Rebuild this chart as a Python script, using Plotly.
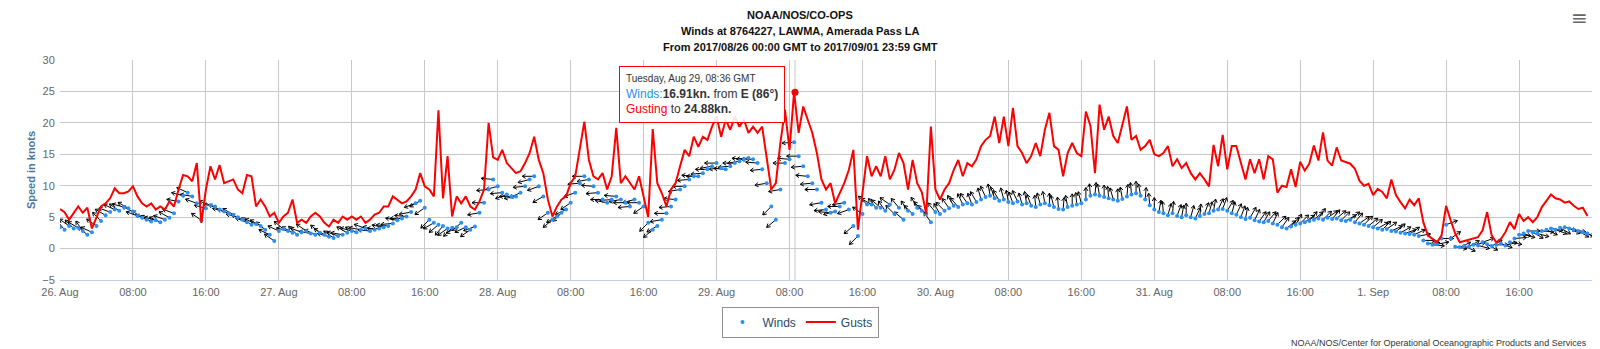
import pandas as pd
import numpy as np
import plotly.graph_objects as go

# ---------------- data (30-minute samples) ----------------
start_time = "2017-08-26 00:00"
step = "30min"

gust_aug26 = [6.3, 5.8, 4.6, 5.7, 6.7, 5.7, 6.5, 3.2, 5.1, 6.7, 7.2, 8.0, 9.6, 8.8, 8.8, 9.1,
              9.9, 8.3, 7.2, 6.7, 7.2, 6.2, 6.7, 6.2, 7.5, 6.7, 9.4, 11.7, 11.5, 10.7, 13.6, 4.1,
              9.4, 13.1, 11.0, 13.3, 10.4, 10.7, 11.0, 9.4, 8.8, 11.7, 11.5, 6.7, 7.8, 6.7, 5.1, 5.7]
gust_aug27 = [4.1, 5.1, 5.7, 7.8, 4.1, 4.6, 4.1, 5.1, 5.7, 5.1, 4.1, 3.5, 4.6, 4.1, 5.1, 4.6,
              5.1, 4.6, 5.1, 4.1, 4.6, 5.4, 5.7, 6.7, 6.7, 8.3, 7.8, 7.2, 7.5, 8.3, 9.4, 12.0,
              9.9, 9.4, 8.3, 22.0, 8.0, 14.7, 5.1, 8.3, 7.2, 8.3, 6.7, 6.2, 7.5, 9.4, 20.0, 14.5]
gust_aug28 = [14.1, 15.7, 13.6, 12.8, 12.0, 12.3, 13.6, 15.2, 17.8, 14.1, 12.0, 7.8, 5.1, 6.7, 7.8, 8.3,
              10.4, 11.5, 15.7, 20.2, 14.1, 11.5, 11.0, 12.0, 9.4, 11.5, 19.2, 10.4, 11.5, 10.4, 9.4, 11.5,
              8.3, 5.0, 19.0, 10.4, 8.8, 6.7, 9.4, 10.4, 13.1, 15.7, 14.7, 17.8, 16.2, 17.8, 17.3, 19.4]
gust_aug29 = [21.0, 17.8, 20.5, 18.9, 21.0, 19.4, 20.5, 18.4, 19.4, 18.4, 19.4, 14.7, 9.4, 10.4, 16.8, 22.1,
              15.7, 24.88, 18.4, 22.6, 20.5, 18.4, 15.2, 11.0, 9.4, 10.4, 7.2, 8.8, 10.4, 12.5, 15.7, 3.0,
              8.8, 14.7, 11.5, 13.1, 11.5, 14.7, 11.0, 12.5, 15.2, 13.6, 9.4, 14.1, 10.4, 9.0, 5.5, 19.4]
gust_aug30 = [9.4, 7.8, 9.4, 10.4, 12.5, 14.1, 11.5, 13.6, 13.1, 14.2, 16.3, 17.3, 17.9, 21.0, 16.8, 21.0,
              16.3, 22.4, 16.3, 15.2, 13.6, 14.7, 16.8, 14.7, 18.9, 21.6, 16.3, 15.7, 11.5, 15.2, 16.8, 15.2,
              14.7, 21.8, 19.5, 12.0, 22.9, 18.9, 21.0, 17.9, 16.8, 19.5, 22.6, 17.3, 17.9, 15.7, 16.3, 17.3]
gust_aug31 = [15.0, 14.7, 15.2, 16.3, 13.1, 14.2, 12.8, 13.6, 12.0, 11.0, 12.0, 11.0, 9.9, 16.5, 13.1, 18.1,
              12.6, 16.3, 16.3, 13.6, 11.0, 14.2, 12.0, 14.2, 11.0, 14.7, 14.2, 8.9, 10.0, 9.8, 12.6, 9.8,
              13.8, 12.4, 13.5, 16.4, 14.0, 18.5, 14.0, 13.2, 16.1, 14.0, 13.8, 13.5, 12.7, 10.8, 10.0, 10.3]
gust_sep01 = [8.5, 9.5, 9.0, 8.0, 11.0, 8.5, 7.4, 6.4, 7.8, 6.9, 8.0, 4.2, 2.1, 1.5, 1.0, 2.1,
              6.8, 4.5, 2.4, 1.0, 1.2, 1.3, 1.6, 1.8, 2.9, 5.8, 2.1, 1.0, 1.5, 2.6, 4.2, 3.1,
              5.5, 4.4, 5.0, 4.2, 5.0, 6.6, 7.6, 8.6, 8.0, 7.8, 7.3, 7.5, 6.8, 6.3, 6.5, 5.2]

wind_aug26 = [3.4, 3.0, 3.6, 3.2, 3.3, 2.8, 2.2, 2.6, 3.6, 4.4, 5.3, 5.8, 6.2, 6.0, 6.6, 6.4,
              5.9, 5.2, 4.9, 4.6, 4.3, 4.5, 4.2, 4.6, 4.9, 5.6, 7.5, 8.4, 8.9, 8.3, 7.2, 4.5,
              6.4, 6.9, 6.7, 6.2, 5.9, 5.6, 5.4, 5.0, 4.6, 4.2, 3.8, 3.9, 3.6, 3.0, 2.2, 1.2]
wind_aug27 = [2.8, 3.1, 2.8, 2.5, 2.2, 2.6, 2.8, 2.4, 2.2, 2.5, 2.2, 1.9, 1.7, 2.0, 2.2, 2.5,
              2.8, 2.6, 3.0, 3.2, 2.8, 3.0, 3.2, 3.4, 3.6, 4.0, 4.5, 4.8, 5.1, 5.8, 7.2, 7.6,
              6.5, 4.6, 4.1, 3.8, 3.6, 3.2, 3.3, 3.4, 4.1, 3.4, 3.0, 3.5, 5.7, 7.3, 9.4, 11.0]
wind_aug28 = [9.9, 8.9, 8.6, 8.3, 8.3, 8.9, 9.9, 11.0, 11.5, 9.9, 8.3, 5.7, 4.6, 5.1, 5.7, 6.2,
              7.3, 8.9, 10.4, 11.5, 11.0, 9.9, 8.9, 7.8, 7.3, 7.8, 8.3, 7.8, 7.3, 6.7, 7.8, 7.3,
              6.7, 4.1, 3.0, 3.6, 4.6, 5.6, 6.7, 7.8, 9.4, 9.9, 11.0, 11.5, 11.5, 12.0, 12.6, 13.1]
wind_aug29 = [13.6, 12.8, 12.6, 13.1, 13.6, 13.9, 14.2, 14.4, 14.2, 13.6, 12.6, 10.4, 6.7, 4.6, 9.4, 13.6,
              14.2, 16.91, 14.7, 13.1, 11.5, 10.4, 9.4, 7.3, 6.2, 5.7, 5.9, 6.7, 7.3, 6.2, 3.6, 2.0,
              5.5, 7.0, 7.0, 6.5, 6.5, 6.0, 7.0, 5.5, 6.5, 4.6, 6.0, 5.5, 6.5, 6.0, 5.5, 4.2]
wind_aug30 = [5.8, 5.5, 6.0, 6.4, 6.8, 6.6, 7.0, 7.2, 7.0, 7.4, 7.8, 8.2, 8.4, 8.0, 7.6, 7.8,
              7.4, 7.2, 7.5, 7.0, 7.2, 6.8, 6.6, 7.0, 7.2, 6.9, 6.6, 6.3, 6.2, 6.6, 6.8, 7.0,
              7.2, 7.8, 8.4, 8.6, 8.4, 8.2, 8.0, 7.8, 7.6, 7.9, 8.3, 8.6, 8.8, 8.4, 7.8, 6.9]
wind_aug31 = [6.2, 5.8, 5.6, 5.3, 5.6, 5.2, 5.0, 5.3, 5.0, 4.8, 5.2, 5.5, 5.6, 6.0, 6.2, 6.3,
              6.0, 5.6, 5.4, 5.0, 4.7, 4.9, 4.5, 4.3, 4.2, 4.4, 4.0, 3.8, 3.4, 3.2, 3.5, 3.8,
              4.0, 4.2, 4.4, 4.6, 4.8, 4.6, 4.9, 4.7, 4.8, 4.5, 4.4, 4.6, 4.2, 4.0, 3.8, 3.6]
wind_sep01 = [3.4, 3.2, 3.0, 3.1, 2.8, 2.7, 2.5, 2.4, 2.3, 2.2, 2.0, 1.3, 0.8, 0.6, 0.7, 1.6,
              3.8, 1.6, 0.3, 0.2, 0.4, 0.3, 0.6, 0.5, 1.0, 0.7, 0.4, 0.6, 0.8, 0.5, 1.0, 1.6,
              2.2, 2.4, 2.8, 2.6, 2.4, 2.8, 3.0, 3.2, 3.0, 3.3, 3.4, 3.2, 3.0, 2.8, 2.6, 2.4]

# wind direction (degrees, direction the wind comes FROM)
dir_aug26 = [130, 140, 125, 135, 120, 145, 130, 115, 125, 135, 120, 110, 115, 125, 105, 120,
             115, 110, 125, 115, 120, 105, 115, 110, 120, 110, 100, 105, 115, 100, 110, 125,
             105, 110, 100, 115, 105, 110, 120, 105, 115, 110, 125, 115, 120, 130, 115, 125]
dir_aug27 = [115, 130, 105, 120, 135, 110, 125, 100, 115, 130, 120, 105, 125, 110, 100, 120,
             105, 115, 100, 110, 95, 105, 90, 100, 95, 85, 100, 90, 95, 80, 70, 60,
             55, 45, 60, 50, 40, 55, 45, 60, 50, 65, 55, 70, 80, 90, 85, 95]
dir_aug28 = [75, 85, 70, 90, 80, 65, 85, 75, 90, 70, 60, 55, 50, 60, 45, 65,
             55, 70, 85, 90, 80, 95, 85, 90, 100, 85, 95, 80, 90, 85, 75, 90,
             55, 45, 50, 60, 80, 90, 85, 95, 80, 90, 85, 95, 90, 85, 90, 80]
dir_aug29 = [90, 85, 95, 85, 90, 80, 95, 85, 90, 95, 85, 80, 45, 50, 80, 90,
             95, 86, 90, 85, 95, 85, 90, 80, 85, 95, 75, 90, 80, 70, 50, 45,
             125, 135, 120, 140, 130, 145, 125, 135, 140, 130, 145, 135, 150, 140, 135, 145]
dir_aug30 = [140, 150, 135, 145, 150, 140, 155, 145, 160, 150, 165, 155, 170, 160, 150, 165,
             170, 160, 155, 165, 170, 160, 175, 165, 170, 180, 165, 175, 185, 170, 180, 175,
             165, 180, 175, 185, 170, 180, 175, 165, 180, 170, 185, 175, 180, 170, 185, 175]
dir_aug31 = [180, 190, 175, 195, 185, 200, 190, 180, 195, 205, 185, 200, 195, 190, 205, 200,
             210, 195, 205, 200, 190, 210, 205, 215, 210, 220, 205, 225, 215, 230, 220, 210,
             225, 235, 220, 230, 215, 225, 235, 220, 230, 225, 240, 230, 220, 235, 225, 230]
dir_sep01 = [230, 240, 225, 235, 245, 230, 240, 250, 235, 245, 260, 270, 265, 275, 260, 270,
             250, 235, 280, 245, 295, 240, 260, 285, 250, 300, 240, 270, 290, 255, 280, 265,
             275, 290, 270, 300, 285, 275, 295, 280, 290, 300, 285, 295, 280, 300, 290, 295]

# hovered point shown in the tooltip
hover_time = "2017-08-29 08:36"
hover_label = "Tuesday, Aug 29, 08:36 GMT"
hover_wind = 16.91
hover_dir_name = "E"
hover_dir = 86
hover_gust = 24.88

tick_times = ["2017-08-26 00:00", "2017-08-26 08:00", "2017-08-26 16:00",
              "2017-08-27 00:00", "2017-08-27 08:00", "2017-08-27 16:00",
              "2017-08-28 00:00", "2017-08-28 08:00", "2017-08-28 16:00",
              "2017-08-29 00:00", "2017-08-29 08:00", "2017-08-29 16:00",
              "2017-08-30 00:00", "2017-08-30 08:00", "2017-08-30 16:00",
              "2017-08-31 00:00", "2017-08-31 08:00", "2017-08-31 16:00",
              "2017-09-01 00:00", "2017-09-01 08:00", "2017-09-01 16:00",
              "2017-09-02 00:00"]
tick_labels = ["26. Aug", "08:00", "16:00", "27. Aug", "08:00", "16:00",
               "28. Aug", "08:00", "16:00", "29. Aug", "08:00", "16:00",
               "30. Aug", "08:00", "16:00", "31. Aug", "08:00", "16:00",
               "1. Sep", "08:00", "16:00", ""]
y_ticks = [-5, 0, 5, 10, 15, 20, 25, 30]

title_lines = ["NOAA/NOS/CO-OPS",
               "Winds at 8764227, LAWMA, Amerada Pass LA",
               "From 2017/08/26 00:00 GMT to 2017/09/01 23:59 GMT"]
credit_text = "NOAA/NOS/Center for Operational Oceanographic Products and Services"

# ---------------- assemble ----------------
gusts = gust_aug26 + gust_aug27 + gust_aug28 + gust_aug29 + gust_aug30 + gust_aug31 + gust_sep01
winds = wind_aug26 + wind_aug27 + wind_aug28 + wind_aug29 + wind_aug30 + wind_aug31 + wind_sep01
dirs = dir_aug26 + dir_aug27 + dir_aug28 + dir_aug29 + dir_aug30 + dir_aug31 + dir_sep01
times = pd.date_range(start_time, periods=len(gusts), freq=step)

W, H = 1600, 349
M_L, M_R, M_T, M_B = 60, 8, 60, 69
X0, X1 = pd.Timestamp("2017-08-26 00:00"), pd.Timestamp("2017-09-02 00:00")
Y0, Y1 = -5, 30
plot_w = W - M_L - M_R
plot_h = H - M_T - M_B
px_per_ms = plot_w / ((X1 - X0).total_seconds() * 1000.0)
px_per_kn = plot_h / (Y1 - Y0)

ARROW_LEN = 12.0  # px
HEAD_LEN = 4.0    # px
HEAD_ANG = np.radians(32)


def fmt(t):
    return t.strftime("%Y-%m-%d %H:%M:%S.%f")[:-3]


def offset(t, v, ang, length):
    dx = np.sin(ang) * length
    dy = np.cos(ang) * length
    return t + pd.Timedelta(milliseconds=float(dx / px_per_ms)), v + dy / px_per_kn


ax_x, ax_y = [], []
for t, v, d in zip(times, winds, dirs):
    to = np.radians((d + 180) % 360)
    tip_t, tip_v = offset(t, v, to, ARROW_LEN)
    b1 = offset(tip_t, tip_v, to + np.pi + HEAD_ANG, HEAD_LEN)
    b2 = offset(tip_t, tip_v, to + np.pi - HEAD_ANG, HEAD_LEN)
    ax_x += [fmt(t), fmt(tip_t), None, fmt(b1[0]), fmt(tip_t), fmt(b2[0]), None]
    ax_y += [v, tip_v, None, b1[1], tip_v, b2[1], None]

BLUE = "#2a8ff7"
RED = "#ff0000"
FONT = "Liberation Sans, Arial, sans-serif"


def py(p):   # pixel row -> paper y
    return (H - M_B - p) / plot_h


def px(p):   # pixel column -> paper x
    return (p - M_L) / plot_w


fig = go.Figure()
fig.add_trace(go.Scatter(x=ax_x, y=ax_y, mode="lines", line=dict(color="#000000", width=1),
                         showlegend=False, hoverinfo="skip"))
fig.add_trace(go.Scatter(x=[fmt(t) for t in times], y=winds, mode="markers", name="Winds",
                         marker=dict(size=4, color=BLUE)))
fig.add_trace(go.Scatter(x=[fmt(t) for t in times], y=gusts, mode="lines", name="Gusts",
                         line=dict(color=RED, width=2)))
fig.add_trace(go.Scatter(x=[hover_time], y=[hover_gust], mode="markers", showlegend=False,
                         marker=dict(size=7, color=RED), hoverinfo="skip"))

tooltip = (f"<span style='font-size:10px;color:#333333'>{hover_label}</span><br>"
           f"<span style='color:{BLUE}'>Winds:</span><b>{hover_wind:.2f}kn.</b> from "
           f"<b>{hover_dir_name} ({hover_dir}°)</b><br>"
           f"<span style='color:{RED}'>Gusting</span> to <b>{hover_gust:.2f}kn.</b>")

title_annots = [
    dict(x=px(800), y=py(p), xref="paper", yref="paper", text=f"<b>{s}</b>",
         showarrow=False, xanchor="center", yanchor="middle",
         font=dict(family=FONT, size=11, color="#111111"))
    for s, p in zip(title_lines, [14.5, 31, 47.5])
]

fig.update_layout(
    width=W, height=H,
    margin=dict(l=M_L, r=M_R, t=M_T, b=M_B),
    paper_bgcolor="white", plot_bgcolor="white",
    font=dict(family=FONT, size=11, color="#666666"),
    hovermode=False,
    xaxis=dict(type="date", range=[fmt(X0), fmt(X1)],
               tickmode="array", tickvals=tick_times, ticktext=tick_labels,
               showgrid=True, gridcolor="#C8C8C8", gridwidth=1,
               showline=True, linecolor="#C0D0E0", linewidth=1,
               ticks="outside", ticklen=2, tickcolor="rgba(0,0,0,0)",
               tickfont=dict(family=FONT, size=11, color="#666666"),
               zeroline=False, fixedrange=True),
    yaxis=dict(range=[Y0, Y1], tickmode="array", tickvals=y_ticks,
               ticktext=[("\u2212" + str(abs(v))) if v < 0 else str(v) for v in y_ticks],
               showgrid=True, gridcolor="#C8C8C8", gridwidth=1,
               zeroline=False, showline=False,
               ticks="outside", ticklen=2, tickcolor="rgba(0,0,0,0)",
               tickfont=dict(family=FONT, size=11, color="#666666"),
               title=dict(text="<b>Speed in knots</b>", standoff=4,
                          font=dict(family=FONT, size=11, color="#4d759e")),
               fixedrange=True),
    legend=dict(orientation="h", x=px(800), xanchor="center", y=py(322), yanchor="middle",
                bordercolor="#909090", borderwidth=1, bgcolor="white",
                font=dict(family=FONT, size=12, color="#274b6d"),
                itemwidth=30, tracegroupgap=0),
    annotations=title_annots + [
        dict(x=hover_time, y=hover_gust, xref="x", yref="y", text=tooltip,
             showarrow=False, xanchor="right", yanchor="middle", xshift=-10, yshift=-2,
             align="left", bgcolor="rgba(255,255,255,0.88)", bordercolor=RED,
             borderwidth=1, borderpad=6,
             font=dict(family=FONT, size=12, color="#333333")),
        dict(x=1.0, y=py(343), xref="paper", yref="paper", text=credit_text,
             showarrow=False, xanchor="right", yanchor="middle", xshift=-3,
             font=dict(family=FONT, size=9, color="#333333")),
        dict(x=px(1579), y=py(18), xref="paper", yref="paper", text="\u2261",
             showarrow=False, xanchor="center", yanchor="middle",
             font=dict(family="DejaVu Sans", size=20, color="#666666")),
    ],
    shapes=[dict(type="line", xref="x", yref="paper", x0=hover_time, x1=hover_time,
                 y0=0, y1=1, line=dict(color="#C8C8C8", width=1), layer="below")],
)

fig.write_html("out.html", include_plotlyjs=True, config={"displayModeBar": False})
